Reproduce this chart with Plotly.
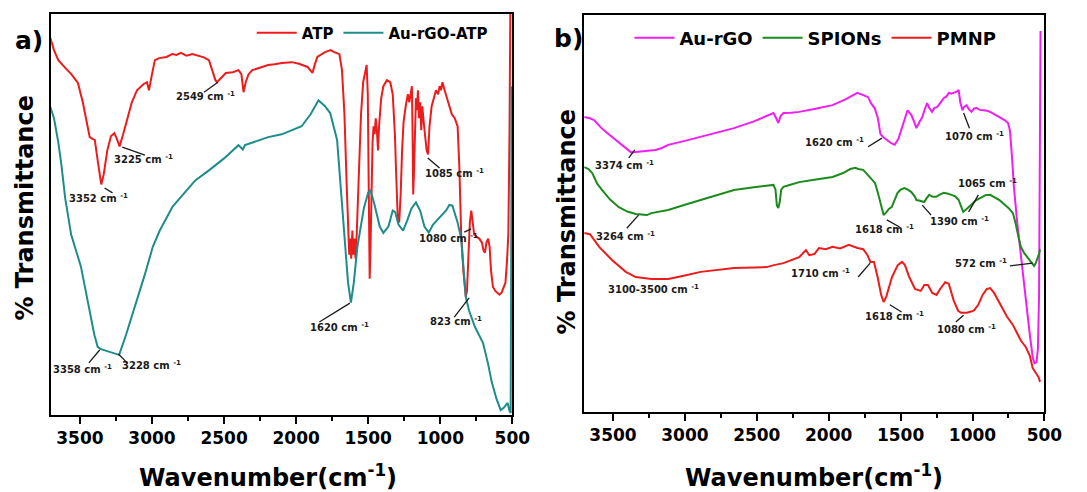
import plotly.graph_objects as go

# ---------------- panel a: ATP / Au-rGO-ATP ----------------
atp_wn = [3705, 3680, 3650, 3630, 3600, 3560, 3514, 3480, 3450, 3432, 3410, 3397, 3375, 3352, 3335,
          3310, 3285, 3261, 3240, 3225, 3200, 3170, 3140, 3104, 3060, 3035, 3021, 3000, 2980, 2950,
          2900, 2860, 2830, 2800, 2760, 2720, 2680, 2640, 2605, 2580, 2560, 2549, 2520, 2488, 2440,
          2400, 2380, 2365, 2350, 2330, 2304, 2250, 2194, 2150, 2100, 2030, 1980, 1921, 1900, 1887,
          1870, 1853, 1800, 1760, 1736, 1700, 1682, 1665, 1650, 1640, 1632, 1625, 1618, 1610, 1603,
          1596, 1588, 1580, 1572, 1562, 1550, 1535, 1520, 1511, 1503, 1497, 1490, 1484, 1478, 1470,
          1463, 1455, 1448, 1440, 1432, 1425, 1410, 1395, 1370, 1347, 1330, 1315, 1306, 1296, 1285,
          1275, 1265, 1255, 1240, 1225, 1215, 1205, 1197, 1193, 1188, 1183, 1176, 1169, 1162, 1155,
          1148, 1140, 1132, 1125, 1115, 1105, 1095, 1085, 1075, 1060, 1045, 1030, 1015, 1005, 995,
          985, 970, 955, 940, 920, 900, 880, 868, 855, 840, 830, 823, 815, 805, 795,
          785, 775, 765, 750, 730, 711, 700, 690, 680, 668, 658, 648, 635, 620, 605,
          590, 575, 560, 548, 538, 528, 520, 514]
atp_t = [94, 91, 88.5, 87.8, 86.5, 85, 82.8, 78, 72, 69.3, 68.8, 68.6, 63, 57.5, 60,
         66, 69.5, 70.3, 68.5, 67, 70, 74, 78, 81, 82.5, 83, 81, 85, 88.5, 89,
         89.3, 90, 89.8, 90.3, 89.6, 90, 89.5, 89.2, 88.5, 86, 83.5, 83, 84, 85.3, 85.5,
         86, 85, 80.5, 83, 85, 86, 86.6, 87.3, 87.5, 87.8, 88, 87.6, 86.8, 86, 85.3,
         87.5, 89.3, 90.5, 91, 90.5, 90, 86, 75, 58, 45, 40, 44, 39, 46, 40,
         44, 39, 45, 52, 62, 75, 83, 86, 87.3, 80, 60, 34, 42, 58, 68,
         72, 70, 74, 71, 66, 72, 79, 82, 83.5, 83, 80, 70, 60, 50, 48,
         55, 66, 73, 77, 80, 78, 81, 82, 72, 55, 60, 74, 79, 76, 81,
         74, 78, 71, 77, 73, 69, 66, 65, 72, 77, 79, 81, 80, 82, 81,
         83, 81, 79, 77, 75, 74, 72, 62, 45, 36, 32, 29.5, 31, 38, 48,
         51, 48, 45, 44.5, 44, 43, 41, 40.5, 43, 44, 42, 36, 32, 31, 30.5,
         30, 30.5, 32, 33, 38, 45, 70, 102]

au_rgo_atp_wn = [3705, 3680, 3650, 3630, 3602, 3561, 3493, 3440, 3400, 3377, 3358, 3300, 3250, 3228,
                 3180, 3117, 3050, 2994, 2946, 2857, 2762, 2700, 2605, 2500, 2400, 2370, 2355, 2300,
                 2194, 2100, 1962, 1900, 1860, 1845, 1800, 1764, 1716, 1682, 1660, 1640, 1620, 1600,
                 1575, 1552, 1530, 1500, 1484, 1460, 1420, 1395, 1360, 1330, 1313, 1290, 1258, 1230,
                 1200, 1169, 1140, 1110, 1080, 1050, 1000, 960, 937, 916, 880, 855, 823, 800,
                 760, 704, 670, 643, 610, 581, 560, 533, 520, 512, 508, 505]
au_rgo_atp_t = [76.8, 74, 68, 62.8, 54, 45, 37, 27, 20, 17, 16.5, 15.8, 15.3, 15,
                20, 27, 35, 42, 46, 52, 56, 58.5, 61, 64, 67.3, 66.2, 67.3, 68,
                69.3, 70, 72, 75, 77.8, 78.5, 77, 75.3, 68.6, 53.6, 43, 33, 28, 33,
                42, 47, 51.6, 55.5, 56, 53, 47, 45.4, 47, 51, 50.6, 47.5, 46, 48.5,
                51.5, 53, 51, 47, 45.5, 47.5, 49.4, 51, 52.4, 52.2, 48, 44, 29.4, 26,
                22, 18, 13, 8.2, 4, 1.2, 1.8, 3, 1, 0.5, 40, 82]

# ---------------- panel b: Au-rGO / SPIONs / PMNP ----------------
au_rgo_wn = [3700, 3660, 3630, 3580, 3540, 3507, 3460, 3411, 3374, 3342, 3300, 3260, 3205, 3160,
             3116, 3000, 2890, 2780, 2658, 2520, 2400, 2384, 2365, 2350, 2335, 2315, 2260, 2205,
             2100, 1973, 1880, 1840, 1801, 1760, 1726, 1706, 1680, 1658, 1640, 1620, 1610, 1590,
             1565, 1541, 1515, 1486, 1465, 1452, 1440, 1425, 1405, 1390, 1370, 1349, 1330, 1315,
             1300, 1281, 1265, 1247, 1225, 1199, 1180, 1164, 1148, 1130, 1110, 1096, 1085, 1070,
             1060, 1041, 1025, 1007, 990, 973, 950, 925, 900, 877, 845, 808, 780, 753,
             740, 725, 712, 690, 660, 630, 600, 580, 569, 555, 545, 537, 531, 527]
au_rgo_t = [74.3, 74, 73.5, 71.5, 70.3, 69.3, 67.8, 66.5, 65.4, 65.5, 65.6, 65.7, 66, 66.5,
            67.3, 68.3, 69.3, 70.4, 71.5, 73.2, 75, 75.3, 74, 72.8, 74.5, 75.3, 75.4, 75.6,
            76.3, 77.3, 78.8, 79.6, 80.4, 79.8, 79.3, 77.8, 76.5, 74, 70, 69.2, 69, 68.4,
            67.7, 67.3, 68.8, 71.8, 74.5, 76, 75.5, 74.8, 73, 71.5, 73, 74.3, 76.5, 77.8,
            76.5, 75.6, 76.6, 76.8, 77.8, 79.1, 79.5, 80.4, 80.2, 80.4, 80.7, 81.1, 78, 76,
            76.8, 77.3, 76.2, 75.6, 76.4, 76.6, 76.1, 76, 75.9, 75.6, 75, 74.3, 73.6, 72.8,
            71, 64, 56.7, 48, 38, 28, 19, 13.5, 12.3, 12.5, 16, 30, 60, 96]

spions_wn = [3700, 3670, 3644, 3610, 3575, 3520, 3459, 3400, 3342, 3290, 3264, 3233, 3170, 3116,
             3000, 2890, 2780, 2658, 2520, 2400, 2384, 2370, 2360, 2350, 2340, 2330, 2315, 2260,
             2205, 2100, 1973, 1900, 1850, 1815, 1795, 1760, 1726, 1700, 1678, 1660, 1644, 1625,
             1618, 1600, 1580, 1562, 1540, 1521, 1500, 1473, 1450, 1425, 1400, 1390, 1365, 1336,
             1320, 1301, 1275, 1253, 1225, 1199, 1170, 1144, 1120, 1096, 1080, 1065, 1045, 1010,
             973, 940, 910, 877, 840, 810, 788, 750, 719, 700, 680, 664, 640, 610,
             590, 572, 560, 548, 538, 530]
spions_t = [61.7, 61.2, 60.2, 57.5, 55.9, 53.5, 51.6, 50.5, 49.9, 49.7, 49.6, 50.1, 50.5, 50.9,
            52.2, 53.4, 54.7, 55.9, 56.6, 57.1, 57.2, 56, 52, 51.4, 53, 56, 56.7, 57.3,
            57.9, 58.5, 59.2, 60.2, 61.2, 61.5, 61.2, 61, 59.7, 58.8, 57.7, 55.5, 53.4, 50.5,
            49.6, 50.3, 51.2, 51.6, 53.5, 55.2, 56, 56.4, 56, 55.4, 54.2, 53.4, 53.2, 52.9,
            53.8, 54.7, 54.2, 54.2, 54.8, 55.2, 55, 54.7, 54.3, 53.4, 52, 50.4, 51, 52.2,
            53.4, 54, 54.6, 54.7, 54, 53.3, 52.6, 51.4, 50.1, 47.5, 44, 41.6, 40, 38.6,
            37.8, 36.8, 37.5, 38.5, 39.8, 41]

pmnp_wn = [3700, 3660, 3596, 3507, 3411, 3342, 3233, 3116, 3000, 2890, 2658, 2432, 2380, 2315,
           2205, 2158, 2135, 2100, 2068, 2020, 1973, 1920, 1860, 1800, 1760, 1730, 1710, 1685,
           1660, 1635, 1618, 1600, 1560, 1520, 1490, 1470, 1440, 1400, 1360, 1335, 1310, 1280,
           1250, 1225, 1190, 1165, 1130, 1100, 1080, 1040, 1010, 990, 960, 930, 900, 877,
           850, 820, 790, 760, 720, 690, 664, 630, 600, 582, 560, 541, 530]
pmnp_t = [45.1, 44.8, 41.6, 38.3, 35.3, 34, 33.5, 33.5, 34.4, 35.3, 36.3, 36.5, 37, 37.5,
          39, 40.8, 39.5, 39.8, 41.3, 41, 41.6, 41.2, 42.1, 41.3, 41, 39.5, 37.8, 37.8,
          34, 29.5, 27.7, 29, 34, 37, 37.8, 37, 34, 31, 30.5, 32, 32, 30,
          29.5, 31, 32.7, 32.3, 28, 25.5, 25, 25, 25.3, 25.6, 27, 29.5, 31, 31.2,
          30, 28, 26, 24, 22, 20, 18, 16.4, 14, 11.1, 9.8, 8.8, 7.6]

tick_vals = [3500, 3000, 2500, 2000, 1500, 1000, 500]
tick_text = [str(v) for v in tick_vals]

RED = "#EC1C1C"
TEAL = "#1E8C8C"
MAGENTA = "#F01EF0"
GREEN = "#1C8A1C"
FONT = "DejaVu Sans"

fig = go.Figure()
fig.add_trace(go.Scatter(x=atp_wn, y=atp_t, mode="lines", name="ATP",
                         line=dict(color=RED, width=2), xaxis="x", yaxis="y", legend="legend"))
fig.add_trace(go.Scatter(x=au_rgo_atp_wn, y=au_rgo_atp_t, mode="lines", name="Au-rGO-ATP",
                         line=dict(color=TEAL, width=2), xaxis="x", yaxis="y", legend="legend"))
fig.add_trace(go.Scatter(x=au_rgo_wn, y=au_rgo_t, mode="lines", name="Au-rGO",
                         line=dict(color=MAGENTA, width=2), xaxis="x2", yaxis="y2", legend="legend2"))
fig.add_trace(go.Scatter(x=spions_wn, y=spions_t, mode="lines", name="SPIONs",
                         line=dict(color=GREEN, width=2), xaxis="x2", yaxis="y2", legend="legend2"))
fig.add_trace(go.Scatter(x=pmnp_wn, y=pmnp_t, mode="lines", name="PMNP",
                         line=dict(color=RED, width=2), xaxis="x2", yaxis="y2", legend="legend2"))

xaxis_style = dict(range=[3700, 500], autorange=False, tickmode="array", tickvals=tick_vals,
                   ticktext=tick_text, ticks="outside", ticklen=7, tickwidth=1.5, tickcolor="black",
                   minor=dict(dtick=250, tick0=500, ticks="outside", ticklen=4, tickwidth=1.5,
                              tickcolor="black", showgrid=False),
                   showline=True, linecolor="black", linewidth=1.5, mirror=True,
                   showgrid=False, zeroline=False,
                   tickfont=dict(family=FONT, size=17, color="black", weight="bold"))
yaxis_style = dict(range=[0, 100], autorange=False, showticklabels=False, ticks="",
                   showline=True, linecolor="black", linewidth=1.5, mirror=True,
                   showgrid=False, zeroline=False)

fig.update_layout(
    width=1087, height=492,
    margin=dict(l=0, r=0, t=0, b=0),
    paper_bgcolor="white", plot_bgcolor="white",
    xaxis=dict(domain=[0.0478, 0.4793], anchor="y", **xaxis_style),
    yaxis=dict(domain=[0.1565, 0.9715], anchor="x", **yaxis_style),
    xaxis2=dict(domain=[0.5465, 0.977], anchor="y2", **xaxis_style),
    yaxis2=dict(domain=[0.1626, 0.9695], anchor="x2", **yaxis_style),
    legend=dict(orientation="h", x=0.2355, y=0.933, xanchor="left", yanchor="middle",
                bgcolor="rgba(0,0,0,0)", itemwidth=40,
                font=dict(family=FONT, size=15, color="black", weight="bold")),
    legend2=dict(orientation="h", x=0.5888, y=0.9228, xanchor="left", yanchor="middle",
                 bgcolor="rgba(0,0,0,0)", itemwidth=40,
                 font=dict(family=FONT, size=18, color="black", weight="bold")),
)

label_font = dict(family=FONT, size=10, color="#1a1a1a", weight="bold")
title_font = dict(family=FONT, size=24, color="black", weight="bold")

# peak labels: (text, x, y, axis suffix)
peak_labels = [
    ("3352 cm <sup>-1</sup>", 3370, 54.1, ""),
    ("3225 cm <sup>-1</sup>", 3056, 63.8, ""),
    ("2549 cm <sup>-1</sup>", 2632, 79.6, ""),
    ("1085 cm <sup>-1</sup>", 903, 60.3, ""),
    ("1080 cm <sup>-1</sup>", 944, 44.1, ""),
    ("823 cm <sup>-1</sup>", 889, 23.4, ""),
    ("1620 cm <sup>-1</sup>", 1702, 21.9, ""),
    ("3358 cm <sup>-1</sup>", 3479, 11.5, ""),
    ("3228 cm <sup>-1</sup>", 3001, 12.5, ""),
    ("3374 cm <sup>-1</sup>", 3418, 62.2, "2"),
    ("3264 cm <sup>-1</sup>", 3411, 44.3, "2"),
    ("3100-3500 cm <sup>-1</sup>", 3219, 31.0, "2"),
    ("1620 cm <sup>-1</sup>", 1959, 68.0, "2"),
    ("1070 cm <sup>-1</sup>", 986, 69.5, "2"),
    ("1065 cm <sup>-1</sup>", 897, 57.7, "2"),
    ("1390 cm <sup>-1</sup>", 1089, 48.1, "2"),
    ("1618 cm <sup>-1</sup>", 1610, 46.1, "2"),
    ("1710 cm <sup>-1</sup>", 2055, 35.0, "2"),
    ("1618 cm <sup>-1</sup>", 1541, 24.2, "2"),
    ("1080 cm <sup>-1</sup>", 1041, 20.9, "2"),
    ("572 cm <sup>-1</sup>", 938, 37.5, "2"),
]
# leader lines: (x0, y0, x1, y1, axis suffix)
leaders = [
    (3329, 56.6, 3274, 55.4, ""),
    (3206, 66.8, 3049, 64.8, ""),
    (2639, 80.5, 2543, 83.0, ""),
    (1087, 64.1, 1005, 61.6, ""),
    (834, 45.6, 786, 46.4, ""),
    (903, 24.4, 800, 29.2, ""),
    (1839, 23.2, 1627, 27.9, ""),
    (3438, 13.0, 3363, 16.2, ""),
    (3172, 13.0, 3233, 15.2, ""),
    (3390, 64.0, 3349, 66.0, "2"),
    (3404, 46.3, 3322, 49.6, "2"),
    (1726, 66.8, 1630, 69.0, "2"),
    (1062, 75.3, 1021, 71.5, "2"),
    (959, 54.7, 1027, 50.4, "2"),
    (1349, 52.1, 1288, 49.6, "2"),
    (1596, 48.4, 1507, 46.6, "2"),
    (1795, 34.0, 1712, 37.5, "2"),
    (1575, 27.0, 1493, 25.2, "2"),
    (1116, 22.7, 1062, 24.4, "2"),
    (740, 36.8, 582, 37.5, "2"),
]

for text, x, y, ax in peak_labels:
    fig.add_annotation(text=text, x=x, y=y, xref="x" + ax, yref="y" + ax,
                       xanchor="center", yanchor="middle", showarrow=False, font=label_font)
for x0, y0, x1, y1, ax in leaders:
    fig.add_shape(type="line", x0=x0, y0=y0, x1=x1, y1=y1, xref="x" + ax, yref="y" + ax,
                  line=dict(color="#1a1a1a", width=1.3))

# panel letters and axis titles
letter_font = dict(family=FONT, size=25, color="black", weight="bold")
for letter, xc, yc in (("a)", 29 / 1087, 1 - 40 / 492), ("b)", 578 / 1087, 1 - 38 / 492)):
    fig.add_annotation(text=letter, x=xc, y=yc, xref="paper", yref="paper",
                       xanchor="center", yanchor="middle", showarrow=False, font=letter_font)
for xc in (273 / 1087, 828 / 1087):
    fig.add_annotation(text="Wavenumber(cm<sup>-1</sup>)", x=xc, y=1 - 476 / 492,
                       xref="paper", yref="paper", xanchor="center", yanchor="middle",
                       showarrow=False, font=title_font)
for xc, yc in ((25 / 1087, 1 - 208 / 492), (577 / 1087, 1 - 221 / 492)):
    fig.add_annotation(text="% Transmittance", x=xc, y=yc, xref="paper", yref="paper",
                       xanchor="center", yanchor="middle", textangle=-90,
                       showarrow=False, font=title_font)

fig.write_html("out.html")
